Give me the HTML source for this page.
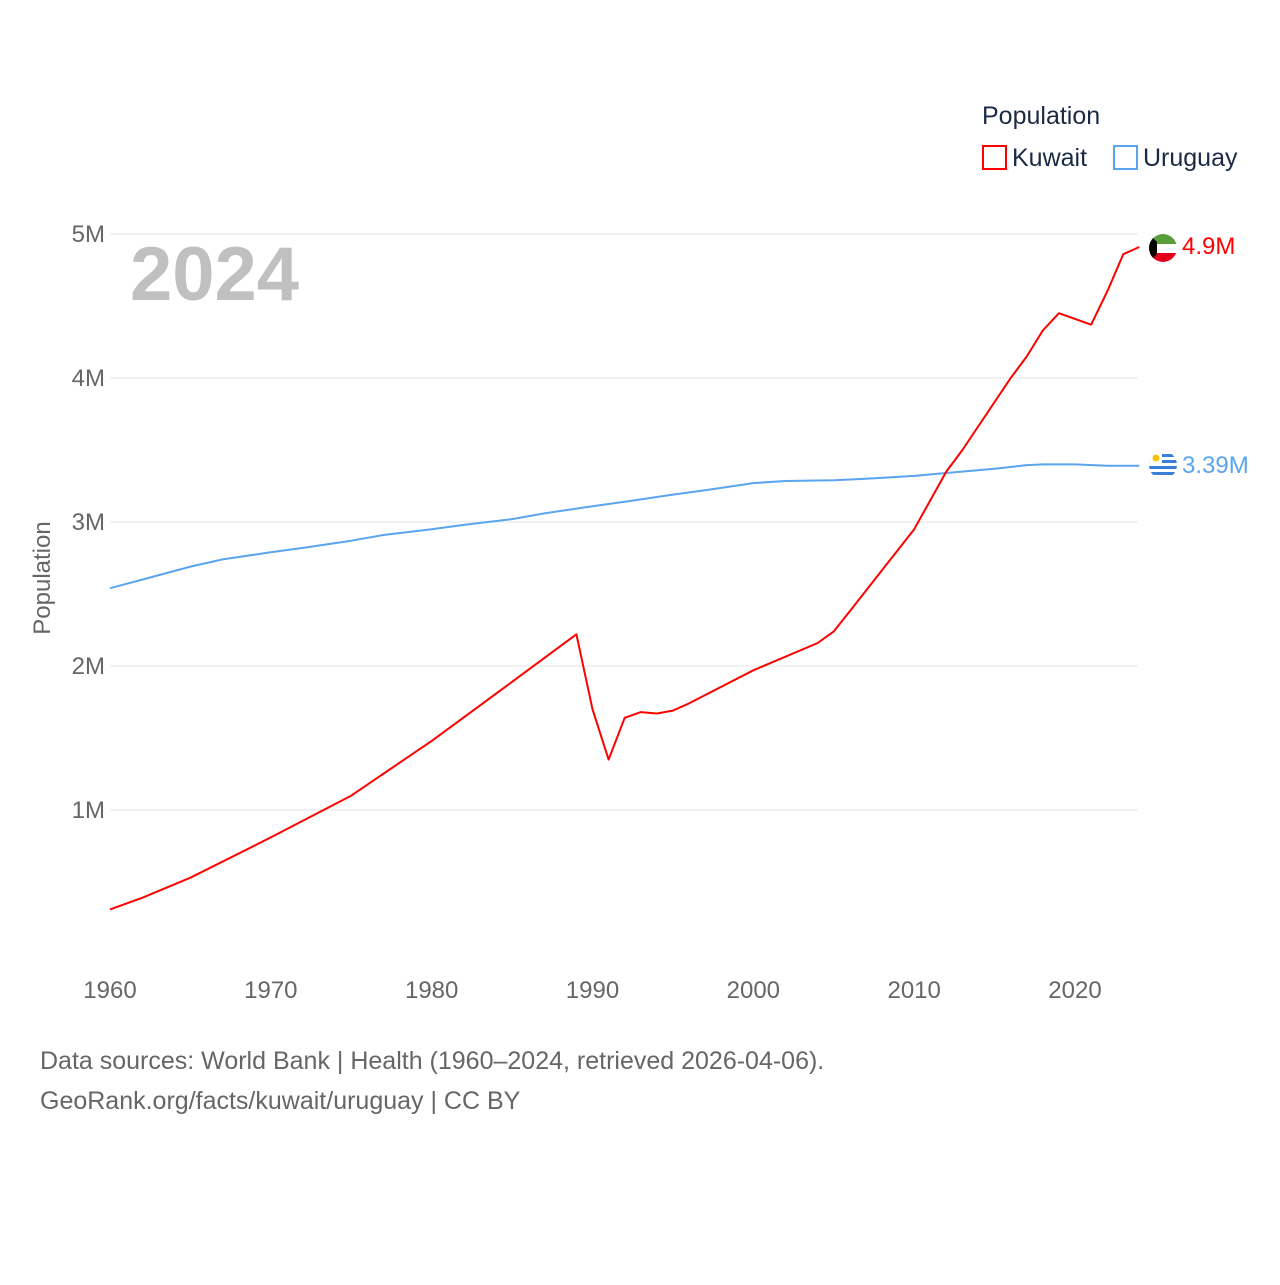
<!DOCTYPE html>
<html><head><meta charset="utf-8"><style>
body{margin:0;background:#fff;font-family:"Liberation Sans",sans-serif}
svg text{font-family:"Liberation Sans",sans-serif}
</style></head><body>
<svg width="1280" height="1280" viewBox="0 0 1280 1280">
<g id="grid"></g>
<g id="yticks"></g>
<g id="xticks"></g>
<text x="130" y="300" font-size="76" font-weight="bold" fill="#c0c0c0">2024</text>
<text transform="translate(50,578) rotate(-90)" text-anchor="middle" font-size="24" fill="#666">Population</text>
<g>
<text x="982" y="124" font-size="25" fill="#1a2a44">Population</text>
<rect x="983" y="146" width="23" height="23" fill="none" stroke="#f00" stroke-width="2"/>
<text x="1012" y="166" font-size="25" fill="#1a2a44">Kuwait</text>
<rect x="1114" y="146" width="23" height="23" fill="none" stroke="#5aa5ee" stroke-width="2"/>
<text x="1143" y="166" font-size="25" fill="#1a2a44">Uruguay</text>
</g>
<g id="series"></g>
<g>
<clipPath id="ck"><circle cx="1163" cy="248" r="14"/></clipPath>
<g clip-path="url(#ck)"><rect x="1149" y="234" width="28" height="10" fill="#5a9e3a"/><rect x="1149" y="244" width="28" height="9" fill="#fff"/><rect x="1149" y="253" width="28" height="10" fill="#e2001a"/><polygon points="1149,234 1157,242 1157,254 1149,262" fill="#000"/></g>
</g>
<g>
<clipPath id="cu"><circle cx="1163" cy="465" r="14"/></clipPath>
<g clip-path="url(#cu)"><rect x="1149" y="451" width="28" height="28" fill="#fff"/>
<rect x="1149" y="454" width="28" height="3" fill="#3a7fd8"/><rect x="1149" y="460" width="28" height="3" fill="#3a7fd8"/><rect x="1149" y="466" width="28" height="3" fill="#3a7fd8"/><rect x="1149" y="472" width="28" height="3" fill="#3a7fd8"/>
<rect x="1149" y="451" width="13" height="13" fill="#fff"/><circle cx="1156" cy="458" r="3.5" fill="#f5c400"/></g>
</g>
<text x="40" y="1069" font-size="25" fill="#666">Data sources: World Bank | Health (1960–2024, retrieved 2026-04-06).</text>
<text x="40" y="1109" font-size="25" fill="#666">GeoRank.org/facts/kuwait/uruguay | CC BY</text>
</svg>
<script>
const kuwaitYears=[1960,1962,1965,1970,1975,1980,1985,1989,1990,1991,1992,1993,1994,1995,1996,2000,2004,2005,2006,2010,2012,2013,2016,2017,2018,2019,2021,2022,2023,2024];
const kuwaitValues=[0.31,0.39,0.53,0.81,1.10,1.48,1.89,2.22,1.70,1.35,1.64,1.68,1.67,1.69,1.74,1.97,2.16,2.24,2.38,2.95,3.35,3.50,4.00,4.15,4.33,4.45,4.37,4.60,4.86,4.91];
const uruguayYears=[1960,1962,1965,1967,1970,1972,1975,1977,1980,1982,1985,1987,1990,1992,1995,1997,2000,2002,2005,2007,2010,2012,2015,2017,2018,2020,2022,2024];
const uruguayValues=[2.54,2.60,2.69,2.74,2.79,2.82,2.87,2.91,2.95,2.98,3.02,3.06,3.11,3.14,3.19,3.22,3.27,3.285,3.29,3.30,3.32,3.34,3.37,3.395,3.40,3.40,3.39,3.39];
const yTicks=[1,2,3,4,5];
const xTicks=[1960,1970,1980,1990,2000,2010,2020];
const X=y=>110+(y-1960)*965/60;
const Y=v=>954-v*144;
const NS="http://www.w3.org/2000/svg";
function mk(t,a,p){const e=document.createElementNS(NS,t);for(const k in a)e.setAttribute(k,a[k]);p.appendChild(e);return e;}
const grid=document.getElementById('grid'),yt=document.getElementById('yticks'),xt=document.getElementById('xticks'),ser=document.getElementById('series');
yTicks.forEach(v=>{
 const l=mk('line',{x1:110,x2:1138,y1:Y(v),y2:Y(v),stroke:'#e6e6e6','stroke-width':1},grid);
 
 
 const t=mk('text',{x:105,y:Y(v)+8,'text-anchor':'end','font-size':24,fill:'#666'},yt);t.textContent=v+'M';
 
 
});
xTicks.forEach(v=>{
 const t=mk('text',{x:X(v),y:998,'text-anchor':'middle','font-size':24,fill:'#666'},xt);t.textContent=v;
 
 
});
function line(xs,vs,c,name){
 const p=mk('path',{d:xs.map((x,i)=>(i?'L':'M')+X(x).toFixed(1)+','+Y(vs[i]).toFixed(1)).join(''),fill:'none',stroke:c,'stroke-width':2,'stroke-linejoin':'round'},ser);
 
 
}
line(uruguayYears,uruguayValues,'#5aa5ee','uruguay-line');
line(kuwaitYears,kuwaitValues,'#ff0000','kuwait-line');
const kl=mk('text',{x:1182,y:Y(kuwaitValues[kuwaitValues.length-1])+7,'font-size':24,fill:'#ff0000'},ser);kl.textContent='4.9M';


const ul=mk('text',{x:1182,y:Y(uruguayValues[uruguayValues.length-1])+7,'font-size':24,fill:'#5aa5ee'},ser);ul.textContent='3.39M';


</script>
</body></html>
